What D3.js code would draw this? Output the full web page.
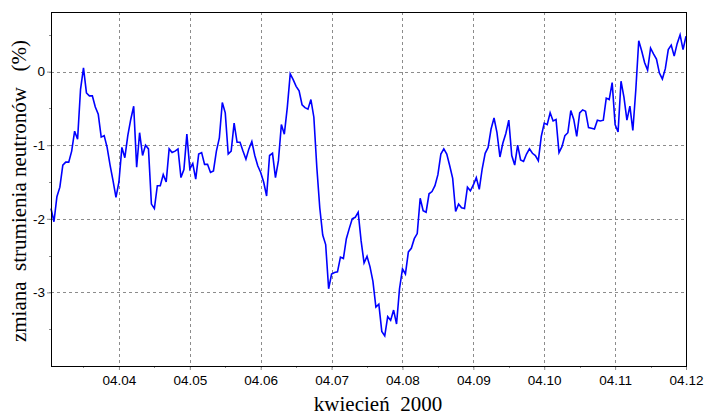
<!DOCTYPE html>
<html>
<head>
<meta charset="utf-8">
<script src="https://cdn.jsdelivr.net/npm/d3@7"></script>
<style>
  body { margin: 0; background: #fff; }
  svg { display: block; }
</style>
</head>
<body>
<svg id="chart" width="710" height="416"></svg>
<script>
// hourly values (%), 04.03 starts at 01:00, every other day at 00:00
var apr03 = [-1.86, -2.04, -1.70, -1.57, -1.27, -1.23, -1.23, -1.08, -0.81, -0.92, -0.24, 0.05,
             -0.29, -0.33, -0.33, -0.48, -0.58, -0.89, -0.87, -1.03, -1.27, -1.48, -1.71];
var apr04 = [-1.50, -1.03, -1.17, -0.87, -0.65, -0.47, -1.30, -0.83, -1.14, -1.00, -1.05, -1.80,
             -1.86, -1.55, -1.55, -1.40, -1.50, -1.05, -1.10, -1.08, -1.05, -1.44, -1.33, -0.85];
var apr05 = [-1.32, -1.25, -1.46, -1.12, -1.10, -1.26, -1.26, -1.37, -1.35, -1.08, -0.90, -0.42,
             -0.56, -1.12, -1.08, -0.70, -0.96, -0.96, -1.08, -1.19, -1.05, -0.95, -1.14, -1.28];
var apr06 = [-1.37, -1.50, -1.69, -1.14, -1.11, -1.44, -1.21, -0.72, -0.85, -0.49, -0.03, -0.11,
             -0.20, -0.26, -0.45, -0.49, -0.51, -0.38, -0.62, -1.30, -1.85, -2.22, -2.35, -2.95];
var apr07 = [-2.75, -2.73, -2.72, -2.52, -2.54, -2.27, -2.13, -2.00, -1.98, -1.91, -2.30, -2.60,
             -2.51, -2.65, -2.85, -3.20, -3.16, -3.53, -3.59, -3.33, -3.38, -3.24, -3.43, -2.95];
var apr08 = [-2.68, -2.75, -2.45, -2.40, -2.27, -2.20, -1.72, -1.89, -1.91, -1.66, -1.63, -1.55,
             -1.40, -1.12, -1.05, -1.12, -1.28, -1.45, -1.90, -1.80, -1.85, -1.86, -1.57, -1.62];
var apr09 = [-1.54, -1.44, -1.60, -1.32, -1.11, -1.03, -0.78, -0.63, -0.83, -1.16, -0.97, -0.84,
             -0.66, -1.14, -1.27, -1.00, -1.20, -1.22, -1.12, -1.05, -1.11, -1.14, -1.21, -0.88];
var apr10 = [-0.70, -0.72, -0.56, -0.67, -0.65, -1.10, -1.02, -0.87, -0.83, -0.53, -0.65, -0.88,
             -0.56, -0.52, -0.54, -0.76, -0.77, -0.78, -0.66, -0.67, -0.66, -0.36, -0.38, -0.15];
var apr11 = [-0.72, -0.82, -0.13, -0.35, -0.66, -0.47, -0.80, -0.25, 0.42, 0.28, 0.12, 0.02,
             0.32, 0.24, 0.17, -0.02, -0.10, 0.04, 0.30, 0.36, 0.21, 0.38, 0.50, 0.30];
var apr12 = [0.48];

var days = [apr03, apr04, apr05, apr06, apr07, apr08, apr09, apr10, apr11, apr12];
var yTicks = [0, -1, -2, -3];

// build a flat series of {t, v}
var series = [];
days.forEach(function(day, i) {
  var startHour = (i === 0) ? 1 : 0;
  day.forEach(function(v, j) {
    series.push({ t: new Date(Date.UTC(2000, 3, 3 + i, startHour + j)), v: v });
  });
});

var svg = d3.select('#chart');
var plotLeft = 51, plotRight = 686, plotTop = 12, plotBottom = 366;

var x = d3.scaleUtc()
  .domain([new Date(Date.UTC(2000, 3, 3, 1)), new Date(Date.UTC(2000, 3, 12, 0))])
  .range([plotLeft, plotRight]);
var y = d3.scaleLinear().domain([-4, 0.81]).range([plotBottom, plotTop]);

var dayTicks = d3.utcDay.range(new Date(Date.UTC(2000, 3, 4)), new Date(Date.UTC(2000, 3, 12, 1)));
var halfTicks = d3.utcHour.every(12).range(x.domain()[0], x.domain()[1]);
var halfY = d3.range(-3.5, 0.81, 0.5);

// grid
svg.append('g').selectAll('line').data(dayTicks.slice(0, -1)).join('line')
  .attr('x1', d => Math.round(x(d)) + 0.5).attr('x2', d => Math.round(x(d)) + 0.5)
  .attr('y1', plotTop).attr('y2', plotBottom)
  .attr('stroke', '#8c8c8c').attr('stroke-dasharray', '3,3');
svg.append('g').selectAll('line').data(yTicks).join('line')
  .attr('x1', plotLeft).attr('x2', plotRight)
  .attr('y1', d => Math.round(y(d)) + 0.5).attr('y2', d => Math.round(y(d)) + 0.5)
  .attr('stroke', '#8c8c8c').attr('stroke-dasharray', '3,3');

// x axis
var xAxis = d3.axisBottom(x).tickValues(dayTicks).tickFormat(d3.utcFormat('%m.%d'))
  .tickSize(4).tickPadding(5);
var gx = svg.append('g').attr('transform', 'translate(0,' + plotBottom + ')').call(xAxis);
gx.select('.domain').remove();
gx.selectAll('.tick line').attr('stroke', '#8c8c8c');
gx.selectAll('.tick text').attr('font-family', 'Liberation Sans, Arial, sans-serif')
  .attr('font-size', 13.5).attr('fill', '#000');
svg.append('g').selectAll('line').data(halfTicks).join('line')
  .attr('x1', d => Math.round(x(d)) + 0.5).attr('x2', d => Math.round(x(d)) + 0.5)
  .attr('y1', plotBottom).attr('y2', plotBottom + 2).attr('stroke', '#8c8c8c');

// y axis
var yAxis = d3.axisLeft(y).tickValues(yTicks).tickFormat(d3.format('d'))
  .tickSize(4).tickPadding(2);
var gy = svg.append('g').attr('transform', 'translate(' + plotLeft + ',0)').call(yAxis);
gy.select('.domain').remove();
gy.selectAll('.tick line').attr('stroke', '#8c8c8c');
gy.selectAll('.tick text').attr('font-family', 'Liberation Sans, Arial, sans-serif')
  .attr('font-size', 13.5).attr('fill', '#000').text(d => d < 0 ? '-' + (-d) : d);
svg.append('g').selectAll('line').data(halfY).join('line')
  .attr('x1', plotLeft - 2).attr('x2', plotLeft)
  .attr('y1', d => Math.round(y(d)) + 0.5).attr('y2', d => Math.round(y(d)) + 0.5)
  .attr('stroke', '#8c8c8c');

// data line
var line = d3.line().x(d => x(d.t)).y(d => y(d.v));
svg.append('path').datum(series)
  .attr('d', line)
  .attr('fill', 'none')
  .attr('stroke', '#0000ff')
  .attr('stroke-width', 1.6)
  .attr('stroke-linejoin', 'miter');

// frame
svg.append('rect')
  .attr('x', plotLeft + 0.5).attr('y', plotTop + 0.5)
  .attr('width', plotRight - plotLeft).attr('height', plotBottom - plotTop)
  .attr('fill', 'none').attr('stroke', '#000');

// titles
svg.append('text')
  .attr('x', 378).attr('y', 411)
  .attr('text-anchor', 'middle')
  .attr('font-family', 'Liberation Serif, Times New Roman, serif')
  .attr('font-size', 21)
  .style('white-space', 'pre')
  .text('kwiecień  2000');

svg.append('text')
  .attr('transform', 'translate(26,191) rotate(-90)')
  .attr('text-anchor', 'middle')
  .attr('font-family', 'Liberation Serif, Times New Roman, serif')
  .attr('font-size', 21)
  .style('white-space', 'pre')
  .text('zmiana  strumienia neutronów   (%)');
</script>
</body>
</html>
